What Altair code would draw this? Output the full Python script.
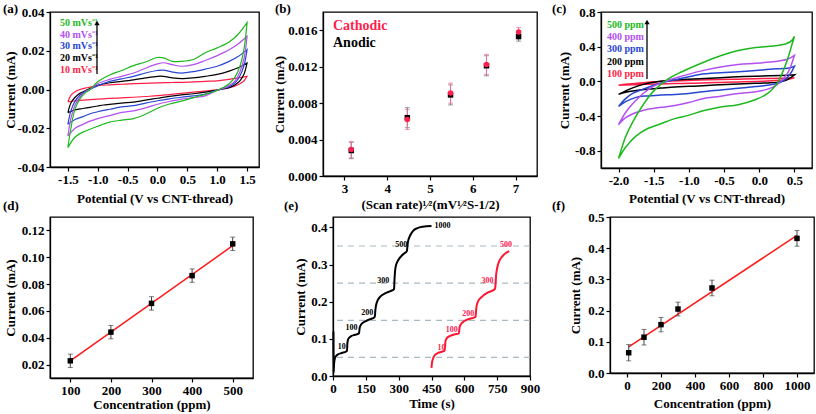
import altair as alt
import pandas as pd

FONT = "Liberation Serif"

# ---------------- (a) CV at different scan rates ----------------
a_names = ["10 mVs⁻¹", "20 mVs⁻¹", "30 mVs⁻¹", "40 mVs⁻¹", "50 mVs⁻¹"]
a_colors = ["#FF1E46", "#000000", "#2846D2", "#B350F0", "#1DB81D"]
a_v_fwd = [-1.5, -1.45, -1.38, -1.3, -1.2, -1.13, -1.0, -0.8, -0.6, -0.4, -0.2,
           0.0, 0.1, 0.25, 0.4, 0.6, 0.8, 1.0, 1.2, 1.35, 1.5]
a_v_rev = [1.5, 1.45, 1.38, 1.3, 1.2, 1.1, 1.0, 0.8, 0.6, 0.4, 0.2, 0.0, -0.2,
           -0.4, -0.6, -0.8, -0.9, -1.0, -1.13, -1.25, -1.38, -1.5]
a_fwd_10 = [-0.0064, -0.003, -0.0012, 0.0, 0.0008, 0.0012, 0.002, 0.0024, 0.0027, 0.003, 0.0032,
            0.0034, 0.0035, 0.0036, 0.0037, 0.0039, 0.0042, 0.0045, 0.0052, 0.006, 0.0068]
a_fwd_20 = [-0.012, -0.007, -0.004, -0.002, -0.0005, 0.0005, 0.0022, 0.0035, 0.0042, 0.005, 0.006,
            0.0068, 0.0068, 0.006, 0.0056, 0.006, 0.0068, 0.0078, 0.0095, 0.0112, 0.0137]
a_fwd_30 = [-0.018, -0.011, -0.006, -0.003, -0.0008, 0.0, 0.002, 0.0042, 0.0055, 0.0068, 0.0085,
            0.0098, 0.01, 0.009, 0.0085, 0.0092, 0.0105, 0.012, 0.0145, 0.017, 0.0206]
a_fwd_40 = [-0.024, -0.015, -0.008, -0.004, -0.001, 0.0, 0.003, 0.0052, 0.0068, 0.0085, 0.011,
            0.0132, 0.0138, 0.0128, 0.012, 0.0128, 0.015, 0.0175, 0.0205, 0.0235, 0.0275]
a_fwd_50 = [-0.030, -0.020, -0.010, -0.005, -0.0015, 0.0, 0.004, 0.0075, 0.0098, 0.0123, 0.0142,
            0.0165, 0.0163, 0.0145, 0.0145, 0.0155, 0.019, 0.0215, 0.0245, 0.0285, 0.0345]
a_rev_10 = [0.0068, 0.0045, 0.003, 0.0018, 0.001, 0.0004, -0.0002, -0.0008, -0.0014, -0.002, -0.0026,
            -0.0032, -0.0036, -0.004, -0.0043, -0.0046, -0.0048, -0.005, -0.0052, -0.0055, -0.0058, -0.0064]
a_rev_20 = [0.0137, 0.008, 0.0045, 0.0025, 0.001, 0.0003, -0.0003, -0.0014, -0.0022, -0.0028, -0.0035,
            -0.0045, -0.0055, -0.0065, -0.007, -0.0077, -0.008, -0.0085, -0.0092, -0.0098, -0.0105, -0.012]
a_rev_30 = [0.0206, 0.0125, 0.007, 0.0035, 0.0015, 0.0005, -0.0003, -0.0024, -0.0033, -0.004, -0.0048,
            -0.0058, -0.007, -0.0083, -0.009, -0.0102, -0.0108, -0.0115, -0.0125, -0.014, -0.0155, -0.018]
a_rev_40 = [0.0275, 0.016, 0.009, 0.0045, 0.002, 0.0006, -0.0004, -0.0033, -0.0042, -0.005, -0.0062,
            -0.0076, -0.0095, -0.011, -0.0118, -0.0135, -0.0142, -0.015, -0.0163, -0.018, -0.020, -0.024]
a_rev_50 = [0.0345, 0.021, 0.012, 0.0065, 0.003, 0.001, -0.0005, -0.0025, -0.0042, -0.006, -0.0075,
            -0.0097, -0.0128, -0.0150, -0.0158, -0.0168, -0.0178, -0.019, -0.0205, -0.022, -0.0245, -0.030]

# ---------------- (b) peak current vs sqrt(scan rate) ----------------
b_x = [3.16, 4.47, 5.48, 6.32, 7.07]
b_cath = [0.0029, 0.0062, 0.0091, 0.01225, 0.0158]
b_anod = [0.0028, 0.0064, 0.0089, 0.0121, 0.0153]
b_cath_err = [0.0009, 0.0011, 0.0011, 0.0011, 0.0005]
b_anod_err = [0.0009, 0.0011, 0.0011, 0.0011, 0.0005]

# ---------------- (c) CV at different concentrations ----------------
c_names = ["100 ppm", "200 ppm", "300 ppm", "400 ppm", "500 ppm"]
c_colors = ["#FF1E46", "#000000", "#2846D2", "#B350F0", "#1DB81D"]
c_v_fwd = [-2.0, -1.9, -1.8, -1.65, -1.5, -1.3, -1.1, -0.85, -0.55, -0.3, -0.05, 0.15, 0.3, 0.4, 0.46, 0.5]
c_v_rev = [0.5, 0.46, 0.4, 0.33, 0.25, 0.12, -0.05, -0.3, -0.55, -0.8, -1.0, -1.2, -1.4, -1.6, -1.75, -1.9, -2.0]
c_fwd_100 = [-0.045, -0.035, -0.027, -0.016, -0.006, 0.002, 0.008, 0.014, 0.02, 0.025, 0.03, 0.033, 0.036, 0.037, 0.038, 0.04]
c_fwd_200 = [-0.15, -0.11, -0.075, -0.035, -0.01, 0.01, 0.02, 0.03, 0.042, 0.052, 0.06, 0.065, 0.068, 0.07, 0.072, 0.075]
c_fwd_300 = [-0.29, -0.2, -0.14, -0.09, -0.045, 0.0, 0.035, 0.08, 0.1, 0.11, 0.125, 0.14, 0.146, 0.15, 0.162, 0.175]
c_fwd_400 = [-0.50, -0.36, -0.26, -0.14, -0.055, 0.01, 0.06, 0.115, 0.165, 0.195, 0.208, 0.222, 0.238, 0.255, 0.28, 0.30]
c_fwd_500 = [-0.89, -0.64, -0.47, -0.27, -0.11, 0.025, 0.11, 0.2, 0.295, 0.355, 0.39, 0.405, 0.418, 0.44, 0.47, 0.52]
c_rev_100 = [0.04, 0.032, 0.022, 0.015, 0.01, 0.004, -0.002, -0.008, -0.013, -0.018, -0.022, -0.026, -0.03, -0.034, -0.038, -0.042, -0.045]
c_rev_200 = [0.075, 0.05, 0.02, 0.0, -0.012, -0.018, -0.023, -0.03, -0.04, -0.05, -0.058, -0.066, -0.078, -0.09, -0.105, -0.125, -0.15]
c_rev_300 = [0.175, 0.11, 0.045, 0.0, -0.025, -0.045, -0.06, -0.08, -0.1, -0.12, -0.14, -0.152, -0.158, -0.168, -0.185, -0.235, -0.29]
c_rev_400 = [0.30, 0.2, 0.09, 0.02, -0.04, -0.09, -0.12, -0.14, -0.172, -0.2, -0.245, -0.28, -0.3, -0.325, -0.36, -0.42, -0.50]
c_rev_500 = [0.52, 0.41, 0.25, 0.1, -0.03, -0.14, -0.21, -0.27, -0.295, -0.34, -0.39, -0.43, -0.49, -0.55, -0.63, -0.76, -0.89]

# ---------------- (d) calibration 100-500 ppm ----------------
d_x = [100, 200, 300, 400, 500]
d_y = [0.0228, 0.0442, 0.0656, 0.0863, 0.110]
d_err = [0.005, 0.005, 0.005, 0.005, 0.005]
d_fit_x = [100, 500]
d_fit_y = [0.0228, 0.1086]

# ---------------- (e) amperometric response ----------------
e_black_t = [2, 3, 5, 10, 20, 40, 60, 64, 66, 70, 80, 100, 117, 119, 122, 130, 150, 170, 189, 191,
             194, 200, 215, 240, 265, 279, 281, 285, 292, 305, 325, 336, 338, 342, 350, 365, 385, 410, 450]
e_black_i = [0.12, 0.01, 0.034, 0.05, 0.057, 0.062, 0.066, 0.068, 0.09, 0.1, 0.106, 0.111, 0.114, 0.116,
             0.13, 0.14, 0.148, 0.153, 0.158, 0.16, 0.18, 0.198, 0.213, 0.223, 0.229, 0.234, 0.26, 0.29,
             0.305, 0.318, 0.33, 0.335, 0.338, 0.36, 0.375, 0.39, 0.398, 0.402, 0.404]
e_red_t = [450, 452, 456, 465, 480, 500, 510, 512, 514, 520, 535, 555, 574, 576, 578, 585, 600, 625,
           651, 653, 655, 662, 680, 705, 740, 743, 745, 750, 760, 775, 790, 805]
e_red_i = [0.022, 0.035, 0.045, 0.056, 0.062, 0.066, 0.068, 0.08, 0.094, 0.102, 0.108, 0.112, 0.114,
           0.118, 0.13, 0.14, 0.148, 0.154, 0.159, 0.17, 0.185, 0.2, 0.213, 0.224, 0.234, 0.25, 0.27,
           0.29, 0.31, 0.323, 0.331, 0.336]
e_dash_levels = [0.05, 0.15, 0.25, 0.35]
e_black_labels = ["10", "100", "200", "300", "500", "1000"]
e_black_label_t = [40, 84, 157, 229, 312, 500]
e_black_label_i = [0.078, 0.129, 0.17, 0.255, 0.353, 0.403]
e_red_labels = ["10", "100", "200", "300", "500"]
e_red_label_t = [496, 542, 618, 706, 790]
e_red_label_i = [0.075, 0.123, 0.168, 0.257, 0.352]

# ---------------- (f) calibration 10-1000 ppm ----------------
f_x = [10, 100, 200, 300, 500, 1000]
f_y = [0.065, 0.1147, 0.155, 0.205, 0.2725, 0.4315]
f_err = [0.026, 0.025, 0.023, 0.022, 0.025, 0.025]
f_fit_x = [10, 1000]
f_fit_y = [0.084, 0.441]


NEG = "replace(datum.label, '\u2212', '-')"


def xaxis(values, fmt, title, w, ty):
    return alt.Axis(values=values, format=fmt, title=title, labelExpr=NEG,
                    labelFont=FONT, labelFontSize=13, labelFontWeight="bold", labelColor="black",
                    titleFont=FONT, titleFontSize=13, titleFontWeight="bold", titleColor="black",
                    titleX=w / 2, titleY=ty, titleBaseline="middle", titleAlign="center",
                    grid=False, domainColor="black", domainWidth=1.3, tickColor="black",
                    tickSize=4, tickWidth=1.2, labelPadding=2, labelFlush=False, labelOverlap=False)


def yaxis(values, fmt, title, h, tx):
    return alt.Axis(values=values, format=fmt, title=title, labelExpr=NEG,
                    labelFont=FONT, labelFontSize=13, labelFontWeight="bold", labelColor="black",
                    titleFont=FONT, titleFontSize=13, titleFontWeight="bold", titleColor="black",
                    titleX=tx, titleY=h / 2, titleBaseline="middle", titleAlign="center", titleAngle=-90,
                    grid=False, domainColor="black", domainWidth=1.3, tickColor="black",
                    tickSize=4, tickWidth=1.2, labelPadding=2, labelOverlap=False)


def note(text, x, y, color="black", size=10, align="left", baseline="middle"):
    return alt.Chart(pd.DataFrame({"t": [text]})).mark_text(
        align=align, baseline=baseline, font=FONT, fontWeight="bold", fontSize=size, color=color
    ).encode(x=alt.value(x), y=alt.value(y), text="t:N")


def arrow(x, y_top, y_bot):
    df = pd.DataFrame({"t": [0]})
    shaft = alt.Chart(df).mark_rule(color="black", strokeWidth=1.3).encode(
        x=alt.value(x), y=alt.value(y_top + 3), y2=alt.value(y_bot))
    head = alt.Chart(df).mark_point(shape="triangle-up", filled=True, size=28, color="black", opacity=1).encode(
        x=alt.value(x), y=alt.value(y_top + 3))
    return shaft + head


def cv_layers(v_fwd, v_rev, fwd, rev, names, colors, X, Y, width):
    layers = []
    for n, col, f, r in zip(names, colors, fwd, rev):
        df = pd.DataFrame({"V": v_fwd + v_rev, "I": f + r, "k": list(range(len(v_fwd) + len(v_rev)))})
        layers.append(alt.Chart(df).mark_line(strokeWidth=width, color=col, interpolate="catmull-rom").encode(
            x=X, y=Y, order=alt.Order("k:Q")))
    return layers


# ---- panel a
AW, AH = 209, 155
ax_ = alt.X("V:Q", scale=alt.Scale(domain=[-1.8, 1.7], nice=False, zero=False),
            axis=xaxis([-1.5, -1.0, -0.5, 0.0, 0.5, 1.0, 1.5], ".1f", "Potential (V vs CNT-thread)", AW, 31))
ay_ = alt.Y("I:Q", scale=alt.Scale(domain=[-0.04, 0.04], nice=False, zero=False),
            axis=yaxis([-0.04, -0.02, 0.0, 0.02, 0.04], ".2f", "Current (mA)", AH, -40))
lines_a = cv_layers(a_v_fwd, a_v_rev, [a_fwd_10, a_fwd_20, a_fwd_30, a_fwd_40, a_fwd_50],
                    [a_rev_10, a_rev_20, a_rev_30, a_rev_40, a_rev_50], a_names, a_colors, ax_, ay_, 1.2)
leg_a = [note(n, 10, yy, c) for n, c, yy in zip(a_names[::-1], a_colors[::-1], [11, 22.7, 34.3, 46, 58.3])]
panel_a = alt.layer(*lines_a, *leg_a, arrow(47, 8, 62), note("(a)", -47, -9, size=13, baseline="top")).properties(
    width=AW, height=AH)

# ---- panel b
BW, BH = 214, 164
df_b = pd.DataFrame({"x": b_x + b_x, "y": b_anod + b_cath, "err": b_anod_err + b_cath_err,
                     "kind": ["Anodic"] * 5 + ["Cathodic"] * 5})
df_b["lo"] = df_b["y"] - df_b["err"]
df_b["hi"] = df_b["y"] + df_b["err"]
bx = alt.X("x:Q", scale=alt.Scale(domain=[2.5, 7.5], nice=False, zero=False),
           axis=xaxis([3, 4, 5, 6, 7], "d", "(Scan rate)¹⁄²(mV¹⁄²S-1/2)", BW, 28))
by_scale = alt.Scale(domain=[0, 0.018], nice=False, zero=False)
by_axis = yaxis([0.0, 0.004, 0.008, 0.012, 0.016], ".3f", "Current (mA)", BH, -44)
b_lo = alt.Y("lo:Q", scale=by_scale, axis=by_axis)
b_hi = alt.Y("hi:Q", scale=by_scale, axis=by_axis)
b_y = alt.Y("y:Q", scale=by_scale, axis=by_axis)
b_layers = []
for kind, ecol in [("Anodic", "#6E6E80"), ("Cathodic", "#F0709A")]:
    base = alt.Chart(df_b[df_b["kind"] == kind])
    b_layers.append(base.mark_rule(color=ecol, strokeWidth=1).encode(x=bx, y=b_lo, y2="hi:Q"))
    b_layers.append(base.mark_tick(orient="horizontal", size=5, thickness=1, color=ecol).encode(x=bx, y=b_lo))
    b_layers.append(base.mark_tick(orient="horizontal", size=5, thickness=1, color=ecol).encode(x=bx, y=b_hi))
for kind, mcol, shape in [("Anodic", "#000000", "square"), ("Cathodic", "#FF1F4F", "circle")]:
    b_layers.append(alt.Chart(df_b[df_b["kind"] == kind]).mark_point(
        shape=shape, filled=True, size=30, color=mcol, opacity=1).encode(x=bx, y=b_y))
panel_b = alt.layer(*b_layers,
                    note("Cathodic", 10, 14, "#FF1F4F", 14), note("Anodic", 10, 31, "black", 14),
                    note("(b)", -48, -9, size=13, baseline="top")).properties(width=BW, height=BH)

# ---- panel c
CW, CH = 211, 156
cx_ = alt.X("V:Q", scale=alt.Scale(domain=[-2.25, 0.75], nice=False, zero=False),
            axis=xaxis([-2.0, -1.5, -1.0, -0.5, 0.0, 0.5], ".1f", "Potential  (V vs CNT-thread)", CW, 30.5))
cy_ = alt.Y("I:Q", scale=alt.Scale(domain=[-1.0, 0.8], nice=False, zero=False),
            axis=yaxis([-0.8, -0.4, 0.0, 0.4, 0.8], ".1f", "Current (mA)", CH, -37))
lines_c = cv_layers(c_v_fwd, c_v_rev, [c_fwd_100, c_fwd_200, c_fwd_300, c_fwd_400, c_fwd_500],
                    [c_rev_100, c_rev_200, c_rev_300, c_rev_400, c_rev_500], c_names, c_colors, cx_, cy_, 1.5)
leg_c = [note(n, 6, yy, c) for n, c, yy in zip(c_names[::-1], c_colors[::-1], [13.3, 25, 36.7, 50, 61.7])]
panel_c = alt.layer(*lines_c, *leg_c, arrow(46, 7, 67), note("(c)", -49, -9, size=13, baseline="top")).properties(
    width=CW, height=CH)


# ---- calibration panels d and f
def calib(xs, ys, errs, fx, fy, xdom, ydom, xticks, yticks, yfmt, w, h, xty, ytx, label, lx):
    df = pd.DataFrame({"x": xs, "y": ys, "err": errs})
    df["lo"] = df["y"] - df["err"]
    df["hi"] = df["y"] + df["err"]
    xa = xaxis(xticks, "d", "Concentration (ppm)", w, xty)
    ya = yaxis(yticks, yfmt, "Current (mA)", h, ytx)
    xs_ = alt.Scale(domain=xdom, nice=False, zero=False)
    ys_ = alt.Scale(domain=ydom, nice=False, zero=False)
    X = alt.X("x:Q", scale=xs_, axis=xa)
    Y = alt.Y("y:Q", scale=ys_, axis=ya)
    LO = alt.Y("lo:Q", scale=ys_, axis=ya)
    HI = alt.Y("hi:Q", scale=ys_, axis=ya)
    base = alt.Chart(df)
    fit = alt.Chart(pd.DataFrame({"x": fx, "y": fy})).mark_line(color="#FF1A1A", strokeWidth=1.5).encode(x=X, y=Y)
    bars = base.mark_rule(color="#444444", strokeWidth=1).encode(x=X, y=LO, y2="hi:Q")
    cap1 = base.mark_tick(orient="horizontal", size=5, thickness=1, color="#444444").encode(x=X, y=LO)
    cap2 = base.mark_tick(orient="horizontal", size=5, thickness=1, color="#444444").encode(x=X, y=HI)
    pts = base.mark_point(shape="square", filled=True, size=30, color="black", opacity=1).encode(x=X, y=Y)
    return alt.layer(fit, bars, cap1, cap2, pts, note(label, lx, -17, size=13, baseline="top")).properties(
        width=w, height=h)


DW, DH = 203, 161
panel_d = calib(d_x, d_y, d_err, d_fit_x, d_fit_y, [50, 550], [0.01, 0.13], [100, 200, 300, 400, 500],
                [0.02, 0.04, 0.06, 0.08, 0.10, 0.12], ".2f", DW, DH, 26.5, -39.5, "(d)", -47)
FW, FH = 204, 156
panel_f = calib(f_x, f_y, f_err, f_fit_x, f_fit_y, [-100, 1100], [0, 0.5], [0, 200, 400, 600, 800, 1000],
                [0.0, 0.1, 0.2, 0.3, 0.4, 0.5], ".1f", FW, FH, 30.5, -34.5, "(f)", -58)

# ---- panel e
EW, EH = 197, 159
ex = alt.X("t:Q", scale=alt.Scale(domain=[0, 900], nice=False, zero=False),
           axis=xaxis([0, 150, 300, 450, 600, 750, 900], "d", "Time (s)", EW, 27.5))
ey = alt.Y("i:Q", scale=alt.Scale(domain=[0, 0.428], nice=False, zero=False),
           axis=yaxis([0.0, 0.1, 0.2, 0.3, 0.4], ".1f", "Current (mA)", EH, -33))
dash_e = alt.Chart(pd.DataFrame({"i": e_dash_levels})).mark_rule(
    color="#A9B9C2", strokeWidth=1.2, strokeDash=[6, 5]).encode(y=ey)
line_black = alt.Chart(pd.DataFrame({"t": e_black_t, "i": e_black_i})).mark_line(
    strokeWidth=2, color="#000000", interpolate="monotone").encode(x=ex, y=ey)
line_red = alt.Chart(pd.DataFrame({"t": e_red_t, "i": e_red_i})).mark_line(
    strokeWidth=2, color="#FF1530", interpolate="monotone").encode(x=ex, y=ey)
lab_black = alt.Chart(pd.DataFrame({"t": e_black_label_t, "i": e_black_label_i, "s": e_black_labels})).mark_text(
    font=FONT, fontWeight="bold", fontSize=8, color="black").encode(x=ex, y=ey, text="s:N")
lab_red = alt.Chart(pd.DataFrame({"t": e_red_label_t, "i": e_red_label_i, "s": e_red_labels})).mark_text(
    font=FONT, fontWeight="bold", fontSize=8, color="#FF2050").encode(x=ex, y=ey, text="s:N")
panel_e = alt.layer(dash_e, line_black, line_red, lab_black, lab_red,
                    note("(e)", -49, -17, size=13, baseline="top")).properties(width=EW, height=EH)

row1 = alt.hconcat(panel_a, panel_b, panel_c, spacing=64, bounds="flush")
row2 = alt.hconcat(panel_d, panel_e, panel_f, spacing=80, bounds="flush")

chart = alt.vconcat(row1, row2, spacing=-13, bounds="full").properties(
    autosize=alt.AutoSizeParams(type="pad"),
    padding={"left": 2, "top": 2, "right": 0, "bottom": 0},
    background="white",
).configure_view(stroke="black", strokeWidth=1.3)

chart.save("out.html", embed_options={"renderer": "svg", "actions": False})
